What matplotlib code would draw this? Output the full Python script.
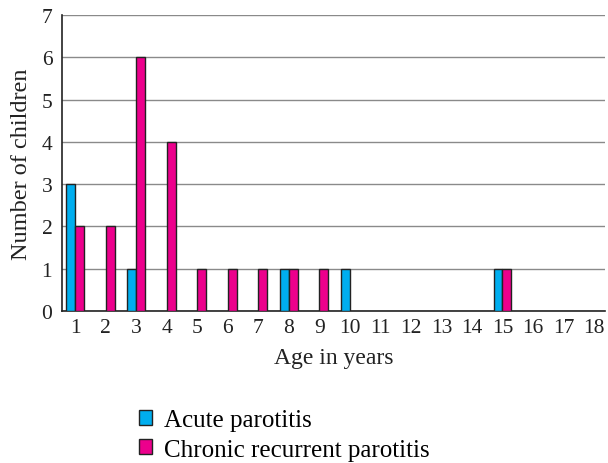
import matplotlib.pyplot as plt
import numpy as np
from matplotlib.patches import Patch

AGES = list(range(1, 19))
ACUTE = [3, 0, 1, 0, 0, 0, 0, 1, 0, 1, 0, 0, 0, 0, 1, 0, 0, 0]
CHRONIC = [2, 2, 6, 4, 1, 1, 1, 1, 1, 0, 0, 0, 0, 0, 1, 0, 0, 0]
LABELS = ["Acute parotitis", "Chronic recurrent parotitis"]
COLORS = ["#00AEEF", "#EC008C"]

plt.rcParams["font.family"] = ["Liberation Serif", "DejaVu Serif"]

fig = plt.figure(figsize=(6.08, 4.64), dpi=100)
ax = fig.add_axes([0.102, 0.3276, 0.893, 0.638])

x = np.array(AGES)
w = 0.29
for vals, off, col in [(ACUTE, -w / 2, COLORS[0]), (CHRONIC, w / 2, COLORS[1])]:
    vals = np.array(vals)
    m = vals > 0
    ax.bar(x[m] + off, vals[m], w, color=col, edgecolor="#222222", linewidth=1.0, zorder=3)

ax.set_xlim(0.57, 18.36)
ax.set_ylim(0, 7)
ax.set_yticks(range(0, 8))
ax.set_xticks(AGES)
ax.yaxis.grid(True, color="#8a8a8a", linewidth=1.0, zorder=0)
ax.tick_params(length=0, labelsize=15.5, colors="#222222")
ax.tick_params(axis="y", pad=7)
ax.tick_params(axis="x", pad=5)
for s in ["top", "right"]:
    ax.spines[s].set_visible(False)
for s in ["left", "bottom"]:
    ax.spines[s].set_color("#222222")
    ax.spines[s].set_linewidth(1.2)

ax.set_xlabel("Age in years", fontsize=17, color="#222222", labelpad=7)
ax.set_ylabel("Number of children", fontsize=17.5, color="#222222", labelpad=7)

handles = [Patch(facecolor=c, edgecolor="#222222", linewidth=1.0) for c in COLORS]
fig.legend(handles, LABELS, loc="upper left", bbox_to_anchor=(0.228, 0.116),
           frameon=False, fontsize=18, handlelength=0.55, handleheight=0.55,
           handletextpad=0.45, labelspacing=0.3, borderaxespad=0, borderpad=0)

fig.savefig("out.png", dpi=100)
